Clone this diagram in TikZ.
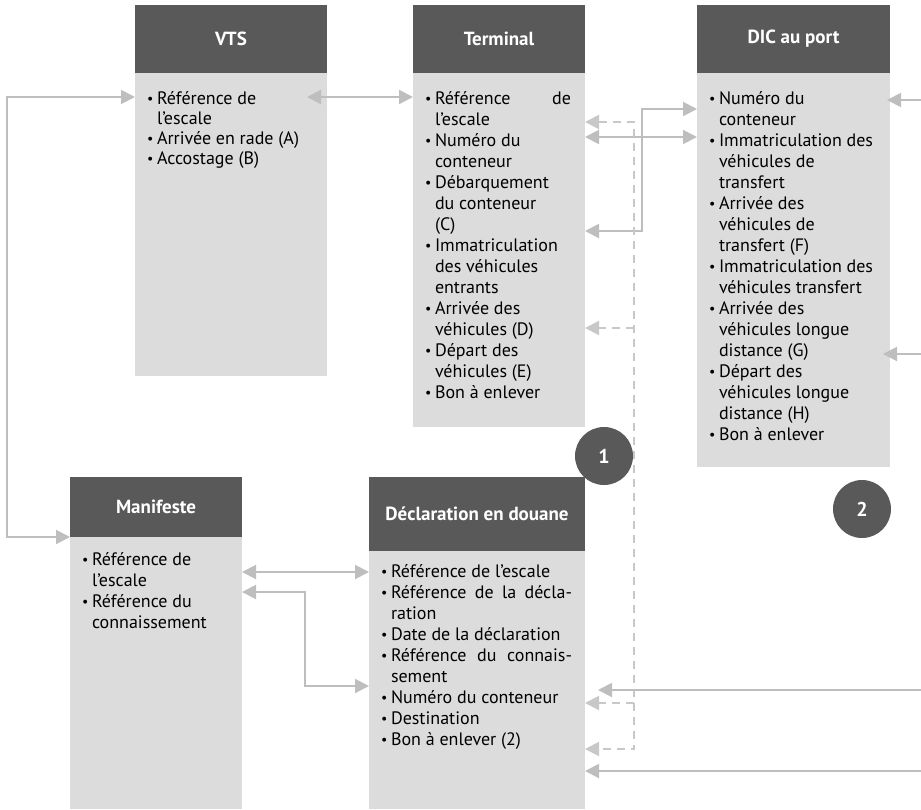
\documentclass[tikz,border=0pt]{standalone}
\usepackage{fontspec}
\setmainfont{PT Sans}
\usetikzlibrary{arrows.meta}
\definecolor{hdrgray}{HTML}{595959}
\definecolor{bodygray}{HTML}{DCDCDC}
\definecolor{linkgray}{HTML}{BEBEBE}
\definecolor{dashgray}{HTML}{C8C8C8}
% list helpers: bullet item and continuation line
\newcommand\bdot{\makebox[10pt][l]{\raisebox{0.4pt}{\fontsize{14}{14}\selectfont •}}}
\newcommand\bitem[1]{\rule{0pt}{15pt}\bdot#1}
\newcommand\bcont[1]{\rule{0pt}{15pt}\hspace*{10pt}#1}
\begin{document}
\begin{tikzpicture}[x=1pt,y=-1pt,
  hdr/.style={fill=hdrgray, text=white, inner sep=0pt, outer sep=0pt, anchor=north west,
    font=\bfseries\fontsize{19}{22}\selectfont},
  bodybox/.style={fill=bodygray, inner sep=0pt, outer sep=0pt, anchor=north west},
  listtxt/.style={inner sep=0pt, outer sep=0pt, anchor=north west, align=left,
    font=\fontsize{18}{21}\selectfont},
  link/.style={draw=linkgray, line width=2pt},
  dlink/.style={draw=dashgray, line width=2pt, dash pattern=on 8pt off 6pt},
  tip/.tip={Triangle[length=14pt,width=14pt]},
  badge/.style={circle, fill=hdrgray, text=white, minimum size=58pt, inner sep=0pt,
    font=\bfseries\fontsize{20}{22}\selectfont}
]
\useasboundingbox (0,0) rectangle (921,809);

% ---- boxes ----
\node[bodybox, minimum width=192pt, minimum height=303pt] (vtsb) at (135,73) {};
\node[hdr, minimum width=192pt, minimum height=68pt] (vtsh) at (135,5) {VTS};

\node[bodybox, minimum width=172pt, minimum height=354pt] (termb) at (413,73) {};
\node[hdr, minimum width=172pt, minimum height=68pt] (termh) at (413,5) {Terminal};

\node[bodybox, minimum width=193pt, minimum height=394pt] (dicb) at (697,73) {};
\node[hdr, minimum width=193pt, minimum height=68pt] (dich) at (697,5) {DIC au port};

\node[bodybox, minimum width=172pt, minimum height=272pt] (manb) at (70,537) {};
\node[hdr, minimum width=172pt, minimum height=60pt] (manh) at (70,477) {Manifeste};

\node[bodybox, minimum width=216pt, minimum height=258pt] (declb) at (369,551) {};
\node[hdr, minimum width=216pt, minimum height=74pt] (declh) at (369,477) {Déclaration en douane};

% ---- box contents ----
\node[listtxt, font=\fontsize{18}{20}\selectfont] (vtst) at (147,89) {%
\bitem{Référence de}\\ \bcont{l’escale}\\ \bitem{Arrivée en rade (A)}\\ \bitem{Accostage (B)}};

\node[listtxt] (termt) at (425,89) {%
\bitem{\makebox[136pt][s]{Référence de}}\\ \bcont{l’escale}\\
\bitem{Numéro du}\\ \bcont{conteneur}\\
\bitem{Débarquement}\\ \bcont{du conteneur}\\ \bcont{(C)}\\
\bitem{Immatriculation}\\ \bcont{des véhicules}\\ \bcont{entrants}\\
\bitem{Arrivée des}\\ \bcont{véhicules (D)}\\
\bitem{Départ des}\\ \bcont{véhicules (E)}\\
\bitem{Bon à enlever}};

\node[listtxt] (dict) at (709,89) {%
\bitem{Numéro du}\\ \bcont{conteneur}\\
\bitem{Immatriculation des}\\ \bcont{véhicules de}\\ \bcont{transfert}\\
\bitem{Arrivée des}\\ \bcont{véhicules de}\\ \bcont{transfert (F)}\\
\bitem{Immatriculation des}\\ \bcont{véhicules transfert}\\
\bitem{Arrivée des}\\ \bcont{véhicules longue}\\ \bcont{distance (G)}\\
\bitem{Départ des}\\ \bcont{véhicules longue}\\ \bcont{distance (H)}\\
\bitem{Bon à enlever}};

\node[listtxt] (mant) at (82,550) {%
\bitem{Référence de}\\ \bcont{l’escale}\\ \bitem{Référence du}\\ \bcont{connaissement}};

\node[listtxt] (declt) at (381,562) {%
\bitem{Référence de l’escale}\\
\bitem{\makebox[181pt][s]{Référence de la décla-}}\\ \bcont{ration}\\
\bitem{Date de la déclaration}\\
\bitem{\makebox[181pt][s]{Référence du connais-}}\\ \bcont{sement}\\
\bitem{Numéro du conteneur}\\
\bitem{Destination}\\
\bitem{Bon à enlever (2)}};

% ---- free ends and bends ----
\coordinate (bendL) at (7,537);
\coordinate (bendT) at (642,109);
\coordinate (bendM) at (305,686);
\coordinate (dashBot) at (634,749);
\coordinate (dashD) at (634,328);
\coordinate (dashN) at (634,703);
\coordinate (inA) at (921,100);
\coordinate (inB) at (921,354);
\coordinate (inC) at (921,690);
\coordinate (inD) at (921,771);

% ---- connectors ----
\draw[link, tip-tip] (vtsb.west |- 0,97) -| (bendL) -- (manh.south west);
\draw[link, tip-tip] ([xshift=-20pt]vtsb.east |- 0,97) -- (termb.west |- 0,97);
\draw[link, tip-tip] (termb.east |- 0,137) -- (dicb.west |- 0,137);
\draw[link, tip-tip] (termb.east |- 0,231) -| (bendT) -- (dicb.west |- 0,109);

\draw[dlink, tip-tip] (termb.east |- 0,122) -| (dashBot) -- (declb.east |- 0,749);
\draw[dlink, -tip] (dashD) -- (termb.east |- 0,328);
\draw[dlink, -tip] (dashN) -- (declb.east |- 0,703);

\draw[link, -tip] (inA) -- ([xshift=-3pt]dicb.east |- 0,100);
\draw[link, -tip] (inB) -- ([xshift=-7pt]dicb.east |- 0,354);
\draw[link, -tip] (inC) -- ([xshift=13pt]declb.east |- 0,690);
\draw[link, -tip] (inD) -- (declb.east |- 0,771);

\draw[link, tip-tip] (manb.east |- 0,572) -- (declb.west |- 0,572);
\draw[link, tip-tip] (manb.east |- 0,592) -| (bendM) -- (declb.west |- 0,686);

% ---- step badges ----
\node[badge] (badge1) at (604,456) {1};
\node[badge] (badge2) at (862,509) {2};
\end{tikzpicture}
\end{document}
